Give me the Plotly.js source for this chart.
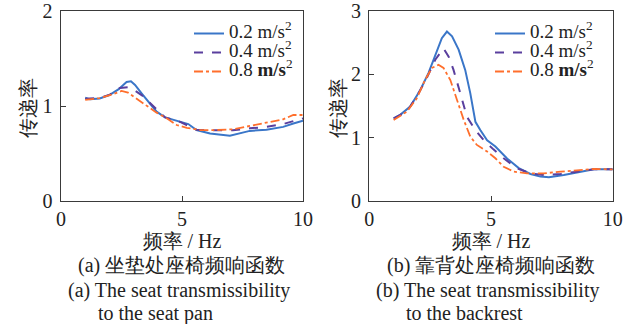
<!DOCTYPE html>
<html><head><meta charset="utf-8">
<script src="https://cdn.plot.ly/plotly-3.0.1.min.js"></script>
<style>html,body{margin:0;padding:0;background:#fff}#c{width:634px;height:324px}</style>
</head><body><div id="c"></div>
<script>
// (a) seat pan
const a02x = [1.0,1.2,1.6,2.0,2.37,2.71,2.89,3.06,3.33,3.61,3.95,4.3,4.78,5.26,5.6,6.16,6.98,7.39,7.8,8.49,9.18,9.6,10.0];
const a02y = [1.087,1.07,1.08,1.116,1.175,1.253,1.26,1.221,1.133,1.045,0.94,0.88,0.845,0.81,0.747,0.71,0.687,0.71,0.738,0.75,0.78,0.815,0.845];
const a04x = [1.0,1.6,2.02,2.44,2.76,2.98,3.33,3.83,4.3,4.9,5.6,6.3,7.1,7.8,8.5,9.18,10.0];
const a04y = [1.076,1.085,1.12,1.19,1.197,1.175,1.115,0.99,0.88,0.835,0.75,0.745,0.745,0.765,0.78,0.81,0.87];
const a08x = [1.0,1.6,2.16,2.5,2.77,3.1,3.53,3.95,4.37,4.78,5.2,5.75,6.44,7.13,7.8,8.49,9.18,9.6,10.0];
const a08y = [1.065,1.083,1.125,1.158,1.14,1.08,1.0,0.93,0.87,0.8,0.77,0.747,0.747,0.755,0.79,0.825,0.86,0.905,0.905];
// (b) backrest
const b02x = [1.0,1.27,1.68,2.09,2.43,2.71,2.98,3.19,3.4,3.67,3.94,4.15,4.36,4.56,4.84,5.18,5.66,6.14,6.62,7.03,7.38,7.99,8.55,9.23,10.0];
const b02y = [1.306,1.36,1.49,1.75,2.02,2.31,2.57,2.675,2.6,2.39,2.07,1.7,1.25,1.12,0.96,0.86,0.67,0.52,0.427,0.385,0.375,0.41,0.447,0.5,0.5];
const b04x = [1.0,1.54,1.95,2.36,2.71,2.98,3.05,3.26,3.46,3.74,4.01,4.36,4.7,5.1,5.52,6.07,6.62,7.17,7.86,8.55,9.23,10.0];
const b04y = [1.306,1.41,1.65,1.94,2.23,2.385,2.41,2.28,2.07,1.7,1.33,1.12,0.96,0.815,0.675,0.516,0.437,0.41,0.427,0.463,0.5,0.5];
const b08x = [1.0,1.54,1.95,2.29,2.57,2.84,3.05,3.33,3.6,3.88,4.15,4.42,4.84,5.18,5.52,5.94,6.48,7.17,7.86,8.55,9.23,10.0];
const b08y = [1.28,1.41,1.62,1.91,2.1,2.15,2.1,1.91,1.6,1.28,1.016,0.885,0.78,0.675,0.54,0.463,0.437,0.437,0.463,0.49,0.505,0.5];

const names = ['0.2 m/s<sup>2</sup>','0.4 m/s<sup>2</sup>','0.8 <b>m/s</b><sup>2</sup>'];
const xTicks = [0,5,10];
const yTicksA = [0,1,2];
const yTicksB = [0,1,2,3];
const xTitle = '频率 / Hz';
const yTitle = '传递率';
const capA = ['(a) 坐垫处座椅频响函数','(a) The seat transmissibility','to the seat pan'];
const capB = ['(b) 靠背处座椅频响函数','(b) The seat transmissibility','to the backrest'];

const C1='#3a76c8', C2='#5a3f9e', C3='#ff6f2c';
const FONT='Liberation Serif, Times New Roman, serif';
const TXT='#222';
function tr(x,y,i,xa,ya,lg){
  const st=[{color:C1,width:2,dash:'solid'},{color:C2,width:2,dash:'dash'},{color:C3,width:1.8,dash:'dashdot'}][i];
  return {x:x,y:y,xaxis:xa,yaxis:ya,mode:'lines',name:'<span style="font-size:19px">'+names[i]+'</span>',line:st,legend:lg};
}
const data=[tr(a02x,a02y,0,'x','y','legend'),tr(a04x,a04y,1,'x','y','legend'),tr(a08x,a08y,2,'x','y','legend'),
 tr(b02x,b02y,0,'x2','y2','legend2'),tr(b04x,b04y,1,'x2','y2','legend2'),tr(b08x,b08y,2,'x2','y2','legend2')];

const W=634,H=324;
function ax(extra){return Object.assign({showline:true,linecolor:'#3a3a3a',linewidth:1.4,mirror:true,ticks:'inside',ticklen:5,tickcolor:'#3a3a3a',
 showgrid:false,zeroline:false,tickfont:{family:FONT,size:20,color:TXT},fixedrange:true},extra);}
const yd=[123/H,313/H];
const tfont={family:FONT,size:20,color:TXT};
const lgFont={family:FONT,size:12,color:TXT};
function ann(t,x,y,xa,size,angle){return {text:t,x:x/W,y:1-y/H,xref:'paper',yref:'paper',xanchor:xa,yanchor:'middle',showarrow:false,textangle:angle||0,font:{family:FONT,size:size,color:TXT}};}
const layout={width:W,height:H,margin:{l:0,r:0,t:0,b:0},paper_bgcolor:'#fff',plot_bgcolor:'#fff',showlegend:true,
 font:{family:FONT,size:20,color:TXT},
 xaxis:ax({domain:[61/W,303/W],range:[0,10],tickvals:xTicks,anchor:'y',title:{text:xTitle,font:tfont,standoff:2}}),
 yaxis:ax({domain:yd,range:[0,2],tickvals:yTicksA,anchor:'x',ticklabelstandoff:3}),
 xaxis2:ax({domain:[369.3/W,612.7/W],range:[0,10],tickvals:xTicks,anchor:'y2',title:{text:xTitle,font:tfont,standoff:2}}),
 yaxis2:ax({domain:yd,range:[0,3],tickvals:yTicksB,anchor:'x2',ticklabelstandoff:3}),
 legend:{x:189/W,y:1-19/H,xanchor:'left',yanchor:'top',font:lgFont,bgcolor:'rgba(0,0,0,0)',tracegroupgap:0,itemwidth:30},
 legend2:{x:490/W,y:1-19/H,xanchor:'left',yanchor:'top',font:lgFont,bgcolor:'rgba(0,0,0,0)',tracegroupgap:0,itemwidth:30},
 annotations:[
  ann(yTitle,28,108,'center',20,-90),
  ann(yTitle,338,108,'center',20,-90),
  ann(capA[0],181.5,265,'center',20),
  ann(capA[1],66,290,'left',20),
  ann(capA[2],96,313,'left',20),
  ann(capB[0],490.5,265,'center',20),
  ann(capB[1],374,290,'left',20),
  ann(capB[2],404,313,'left',20)
 ]};
Plotly.newPlot('c',data,layout,{staticPlot:true,displayModeBar:false});
</script></body></html>
